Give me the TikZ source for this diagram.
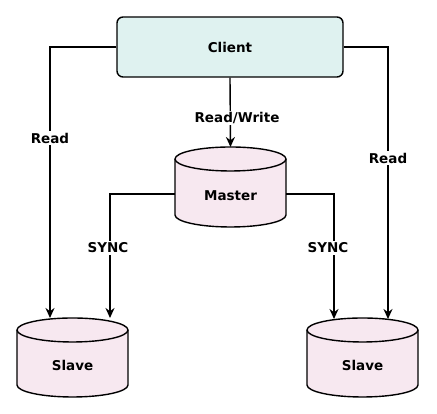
\documentclass[tikz,border=0pt]{standalone}
\usepackage{fontspec}
\setmainfont{DejaVu Sans}
\usetikzlibrary{arrows.meta}
\definecolor{clientfill}{HTML}{DFF2F0}
\definecolor{dbfill}{HTML}{F7E8F0}
\tikzset{
  conn/.style={line width=1.4pt, -{Stealth[length=10pt,width=9pt]}},
  lbl/.style={fill=white, inner sep=1.5pt, font=\bfseries\fontsize{13.5}{15}\selectfont},
  txt/.style={font=\bfseries\fontsize{13.5}{15}\selectfont},
}
% \dbcyl{cx}{ytop}{ybottom}{rx}{ry}
\newcommand\dbcyl[5]{%
  \fill[dbfill] (#1-#4,#2) -- (#1-#4,#3) arc[start angle=180,end angle=360,x radius=#4,y radius=#5]
    -- (#1+#4,#2) arc[start angle=0,end angle=180,x radius=#4,y radius=#5] -- cycle;
  \draw[line width=1.4pt] (#1-#4,#2) -- (#1-#4,#3) arc[start angle=180,end angle=360,x radius=#4,y radius=#5]
    -- (#1+#4,#2) arc[start angle=0,end angle=180,x radius=#4,y radius=#5];
  \draw[line width=1.4pt] (#1-#4,#2) arc[start angle=180,end angle=360,x radius=#4,y radius=#5];
}
\begin{document}
\begin{tikzpicture}[x=1pt,y=1pt]
\useasboundingbox (0,0) rectangle (437,414);
% Client
\node[draw, line width=1.4pt, fill=clientfill, rounded corners=6pt, minimum width=226pt, minimum height=60pt, txt] (client) at (230,367) {Client};
% cylinders
\dbcyl{230.5}{255}{199}{55.5}{12}
\dbcyl{72.5}{84}{29}{55.5}{12}
\dbcyl{362.5}{84}{29}{55.5}{12}
\node[txt] (master) at (230.5,218) {Master};
\node[txt] (slaveL) at (72.5,49) {Slave};
\node[txt] (slaveR) at (362.5,49) {Slave};
% anchor coordinates
\coordinate (mtop) at (230.5,267);
\coordinate (mwest) at (175,220);
\coordinate (meast) at (286,220);
\coordinate (lA) at (50,96);
\coordinate (lB) at (110,96);
\coordinate (rA) at (334,95);
\coordinate (rB) at (388,95);
% connectors
\draw[conn] (client.west) -| (lA);
\draw[conn] (client.east) -| (rB);
\draw[conn] (client.south) -- (mtop);
\draw[conn] (mwest) -| (lB);
\draw[conn] (meast) -| (rA);
% labels
\node[lbl] (l1) at (50,276) {Read};
\node[lbl] (l2) at (388,256) {Read};
\node[lbl] (l3) at (237,296) {Read/Write};
\node[lbl] (l4) at (108,166) {SYNC};
\node[lbl] (l5) at (328,166) {SYNC};
\end{tikzpicture}
\end{document}
